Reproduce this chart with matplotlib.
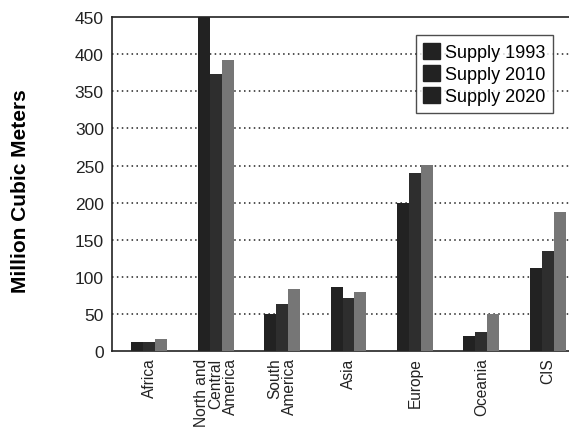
import matplotlib.pyplot as plt
import numpy as np

regions = ['Africa', 'North and\nCentral\nAmerica', 'South\nAmerica', 'Asia',
           'Europe', 'Oceania', 'CIS']
supply_1993 = [12, 450, 50, 86, 200, 20, 112]
supply_2010 = [12, 374, 64, 72, 240, 26, 135]
supply_2020 = [17, 392, 84, 80, 251, 50, 188]
series = [('Supply 1993', supply_1993, '#222222'),
          ('Supply 2010', supply_2010, '#2e2e2e'),
          ('Supply 2020', supply_2020, '#767676')]

plt.rcParams['font.family'] = ['Liberation Sans', 'DejaVu Sans']

fig = plt.figure(figsize=(5.69, 4.31), dpi=100)
ax = fig.add_axes([0.197, 0.183, 0.803, 0.775])

x = np.arange(len(regions))
w = 0.18
for i, (name, vals, col) in enumerate(series):
    ax.bar(x + (i - 1) * w, vals, w, color=col, label=name, zorder=3)

ax.set_xlim(-0.56, 6.32)
ax.set_ylim(0, 450)
ax.set_yticks(np.arange(0, 451, 50))
ax.set_xticks(x)
ax.set_xticklabels(regions, rotation=90, va='top', ha='center',
                   multialignment='right', linespacing=0.95)
ax.tick_params(axis='both', length=0, colors='#222222')
ax.tick_params(axis='y', labelsize=12.5, pad=6)
ax.tick_params(axis='x', labelsize=11.2, pad=4.5)

for v in range(50, 401, 50):
    ax.axhline(v, color='#222222', lw=1.1, ls=(0, (1, 2.2)), zorder=1)

for s in ['left', 'top', 'bottom']:
    ax.spines[s].set_color('#222222')
    ax.spines[s].set_linewidth(1.2)
ax.spines['right'].set_visible(False)

ax.set_ylabel('Million Cubic Meters', fontsize=15, fontweight='bold')
ax.yaxis.set_label_coords(-0.18, 0.482)

leg = ax.legend(loc='upper right', bbox_to_anchor=(0.965, 0.945), fontsize=13,
                frameon=True, fancybox=False, edgecolor='#222222',
                handlelength=0.95, handleheight=1.0, handletextpad=0.3,
                borderpad=0.4, labelspacing=0.22, borderaxespad=0)
leg.get_frame().set_linewidth(1.0)
for h in leg.legend_handles:
    h.set_color('#222222')

fig.savefig('out.png', dpi=100)
